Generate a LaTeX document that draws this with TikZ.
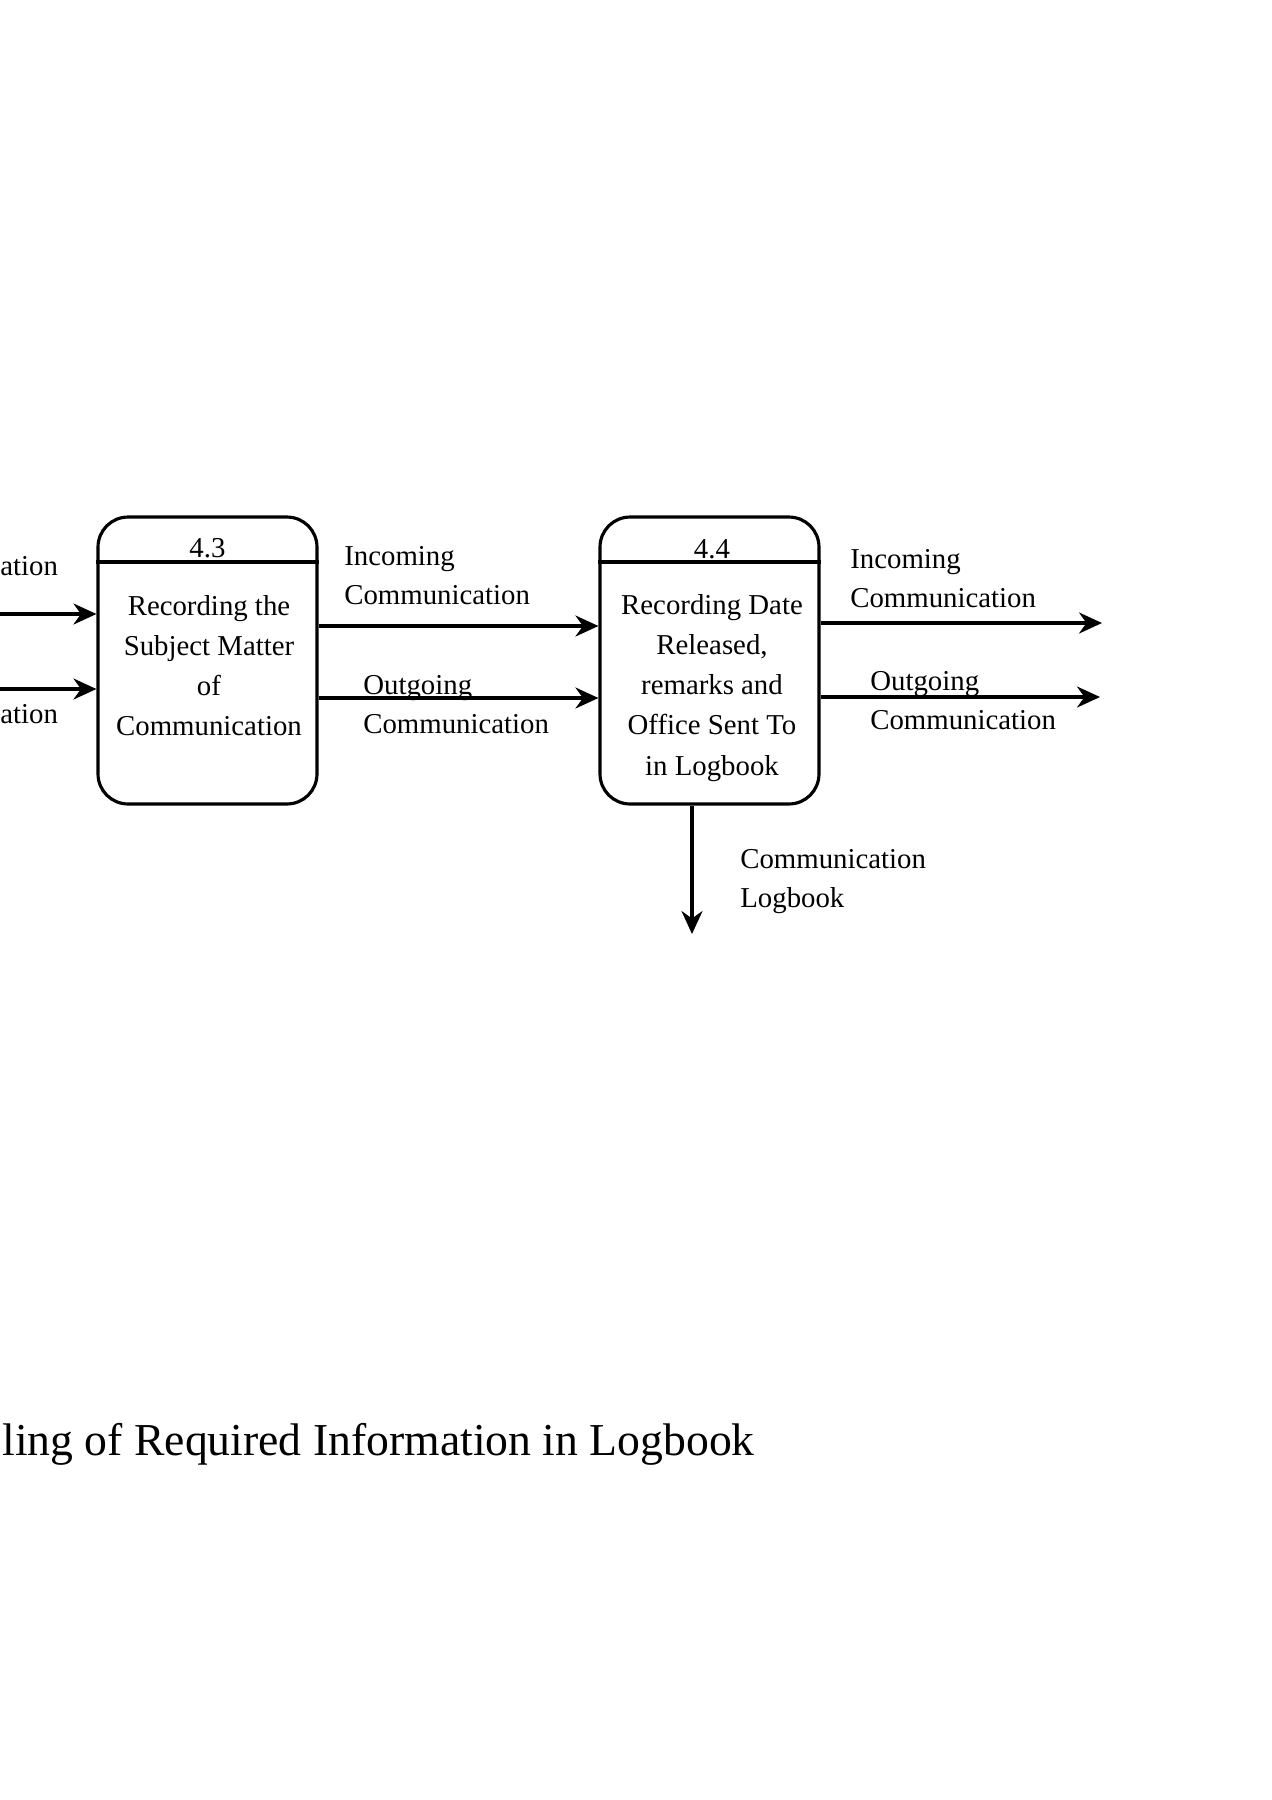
\documentclass[tikz,border=0pt]{standalone}
\usepackage{fontspec}
\setmainfont{Liberation Serif}
\usetikzlibrary{
    arrows.meta,
    positioning
}
\tikzset{
    proc/.style={draw, line width=1.8pt, rounded corners=0.6cm,
        minimum width=4.38cm, minimum height=5.74cm, inner sep=0pt},
    flow/.style={-{Stealth[length=0.46cm, width=0.42cm]}, line width=1.8pt},
    lbl/.style={align=left, inner sep=0pt, font=\fontsize{16.4}{22.6}\selectfont},
    ptext/.style={align=center, inner sep=0pt, font=\fontsize{16.4}{22.8}\selectfont}
}

\begin{document}
\begin{tikzpicture}[x=0.02cm, y=-0.02cm, >=Stealth]
    \useasboundingbox (0,0) rectangle (1272,1800);

    \coordinate (div) at (0,562);
    \coordinate (inL) at (0,614);
    \coordinate (outL) at (0,689);
    \coordinate (inM) at (0,626);
    \coordinate (outM) at (0,698);
    \coordinate (inR) at (1102,623);
    \coordinate (outR) at (1100,697);
    \coordinate (logEnd) at (692,934);

    \node[proc] (box1) at (207.5,660.5) {};
    \node[proc] (box2) at (709.5,660.5) {};

    \draw[line width=1.8pt] (box1.west |- div) -- (box1.east |- div);
    \draw[line width=1.8pt] (box2.west |- div) -- (box2.east |- div);

    \node[ptext] (num1) at (207.5,548) {4.3};
    \node[ptext] (num2) at (712,549) {4.4};
    \node[ptext] (txt1) at (209,666) {Recording the\\Subject Matter\\of\\Communication};
    \node[ptext] (txt2) at (712,688) {Recording Date\\Released,\\remarks and\\Office Sent To\\in Logbook};

    \draw[flow] (inL) -- (box1.west |- inL);
    \draw[flow] (outL) -- (box1.west |- outL);
    \draw[flow] (box1.east |- inM) -- (box2.west |- inM);
    \draw[flow] (box1.east |- outM) -- (box2.west |- outM);
    \draw[flow] (box2.east |- inR) -- (inR);
    \draw[flow] (box2.east |- outR) -- (outR);
    \draw[flow] (box2.south -| logEnd) -- (logEnd);

    \node[lbl, anchor=west] (inLblL) at (0,566) {ation};
    \node[lbl, anchor=west] (outLblL) at (0,714) {ation};
    \node[lbl, anchor=west] (inLblM) at (344,575.5) {Incoming\\Communication};
    \node[lbl, anchor=west] (outLblM) at (363,704.5) {Outgoing\\Communication};
    \node[lbl, anchor=west] (inLblR) at (850,578.5) {Incoming\\Communication};
    \node[lbl, anchor=west] (outLblR) at (870,700.5) {Outgoing\\Communication};
    \node[lbl, anchor=west] (logLbl) at (740,881.5) {Communication\\Logbook};

    \node[anchor=west, inner sep=0pt, font=\fontsize{26}{30}\selectfont] (caption) at (2,1444)
        {ling of Required Information in Logbook};
\end{tikzpicture}
\end{document}
